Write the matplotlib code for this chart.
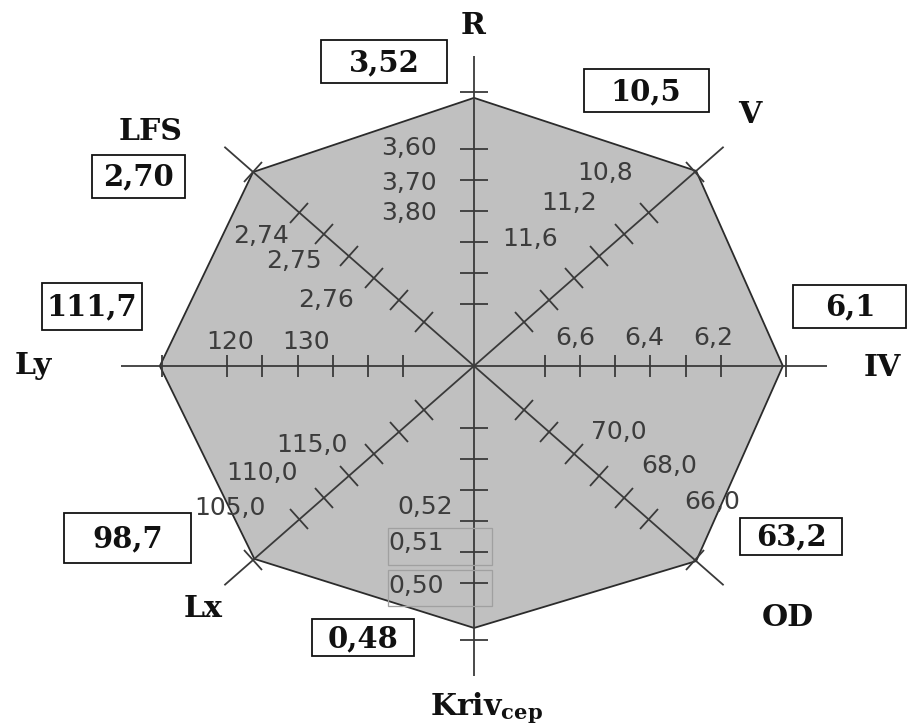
import numpy as np
import matplotlib
matplotlib.use('Agg')
import matplotlib.pyplot as plt
from matplotlib.patches import Polygon, Rectangle
from matplotlib.markers import MarkerStyle
import matplotlib.transforms as mtransforms

plt.rcParams['mathtext.fontset'] = 'dejavuserif'

# ---------------- data ----------------
axis_names = ['R', 'V', 'IV', 'OD', r'$\mathbf{Kriv}_{\mathbf{cep}}$', 'Lx', 'Ly', 'LFS']
axis_angles = [90, 45, 0, -45, -90, -135, 180, 135]
vertex_values = [3.52, 10.5, 6.1, 63.2, 0.48, 98.7, 111.7, 2.70]
vertex_decimals = [2, 1, 1, 1, 2, 1, 1, 2]
vertex_scores = [8.65, 8.9, 8.75, 8.9, 8.45, 8.8, 8.9, 8.85]   # normalised radius of polygon
tick_scores = [2, 3, 4, 5, 6, 7, 8.85]
axis_length = 10

R_labels = ['3,60', '3,70', '3,80'];      R_label_scores = [7, 6, 5]
V_labels = ['10,8', '11,2', '11,6'];      V_label_scores = [7, 6, 5]
IV_labels = ['6,6', '6,4', '6,2'];        IV_label_scores = [3, 5, 7]
OD_labels = ['70,0', '68,0', '66,0'];     OD_label_scores = [3, 5, 7]
Kriv_labels = ['0,52', '0,51', '0,50'];   Kriv_label_scores = [5, 6, 7]
Lx_labels = ['115,0', '110,0', '105,0'];  Lx_label_scores = [3, 5, 7]
Ly_labels = ['120', '130'];               Ly_label_scores = [7, 5]
LFS_labels = ['2,74', '2,75', '2,76'];    LFS_label_scores = [6, 5, 4]

tick_label_sets = [
    (R_labels, R_label_scores), (V_labels, V_label_scores), (IV_labels, IV_label_scores),
    (OD_labels, OD_label_scores), (Kriv_labels, Kriv_label_scores), (Lx_labels, Lx_label_scores),
    (Ly_labels, Ly_label_scores), (LFS_labels, LFS_label_scores)]

# ---------------- layout (pixel offsets, y up) ----------------
label_offsets = [
    [(-37, 1), (-37, -3), (-37, -2)],
    [(-44, 40), (-55, 31), (-69, 17)],
    [(-5, 28), (-6, 28), (-8, 28)],
    [(70, 0), (70, 10), (63, 17)],
    [(-49, 14), (-58, 9), (-58, -3)],
    [(-87, -13), (-87, 3), (-69, 11)],
    [(3, 24), (9, 24)],
    [(-63, -2), (-55, -5), (-48, -22)],
]
label_ha = ['right', 'center', 'center', 'center', 'center', 'center', 'center', 'center']
box_layout = [(-90, 36, 126, 43), (-50, 80, 125, 43), (67, 60, 113, 43), (95, 25, 102, 37),
              (-111, -10, 102, 37), (-127, 21, 127, 50), (-68, 60, 100, 47), (-115, -4, 93, 43)]
name_offsets = [(-1, 31), (26, 32), (55, -1), (64, -32), (13, -32), (-21, -23), (-88, 1), (-74, 15)]
tick_len = [28, 26, 22, 26, 28, 26, 22, 26]
kriv_boxes = {1: (-86, -13, 104, 37), 2: (-86, -23, 104, 36)}

W, H = 911, 726
cx, cy = 474, 366
ux, uy = 35.3, 31.0

fig = plt.figure(figsize=(W / 72, H / 72), dpi=72)
ax = fig.add_axes([0, 0, 1, 1])
ax.set_xlim(-cx / ux, (W - cx) / ux)
ax.set_ylim(-(H - cy) / uy, cy / uy)
ax.axis('off')

dirs = [(np.cos(np.radians(a)), np.sin(np.radians(a))) for a in axis_angles]

# polygon
pts = [(r * d[0], r * d[1]) for r, d in zip(vertex_scores, dirs)]
ax.add_patch(Polygon(pts, closed=True, fc='#c0c0c0', ec='#2b2b2b', lw=1.8, zorder=1))

axis_col = '#3a3a3a'
for i, d in enumerate(dirs):
    ax.plot([0, axis_length * d[0]], [0, axis_length * d[1]], color=axis_col, lw=1.8,
            zorder=2, solid_capstyle='butt')
    p0 = ax.transData.transform((0, 0))
    p1 = ax.transData.transform(d)
    ang = np.degrees(np.arctan2(p1[1] - p0[1], p1[0] - p0[0]))
    m = MarkerStyle('|', transform=mtransforms.Affine2D().rotate_deg(ang))
    xs = [t * d[0] for t in tick_scores]
    ys = [t * d[1] for t in tick_scores]
    ax.plot(xs, ys, ls='', marker=m, markersize=tick_len[i], mew=1.8, color=axis_col, zorder=3)

    # tick labels
    labels, scores = tick_label_sets[i]
    for j, (lab, sc) in enumerate(zip(labels, scores)):
        pt = (sc * d[0], sc * d[1])
        ax.annotate(lab, xy=pt, xytext=label_offsets[i][j], textcoords='offset points',
                    ha=label_ha[i], va='center', fontsize=25, color='#3c3c3c',
                    family='DejaVu Sans', zorder=4)
        if i == 4 and j in kriv_boxes:
            bx, by, bw, bh = kriv_boxes[j]
            tr = mtransforms.ScaledTranslation(pt[0], pt[1], ax.transData)
            ax.add_patch(Rectangle((bx, by), bw, bh, transform=tr, fill=False,
                                   ec='#a0a0a0', lw=1.3, zorder=4))

    # value boxes
    vpt = pts[i]
    dx, dy, bw, bh = box_layout[i]
    tr = mtransforms.ScaledTranslation(vpt[0], vpt[1], ax.transData)
    ax.add_patch(Rectangle((dx - bw / 2, dy - bh / 2), bw, bh, transform=tr, fc='white',
                           ec='#111111', lw=1.8, zorder=5))
    txt = f"{vertex_values[i]:.{vertex_decimals[i]}f}".replace('.', ',')
    ax.annotate(txt, xy=vpt, xytext=(dx, dy - 1), textcoords='offset points', ha='center',
                va='center', fontsize=29, fontweight='bold', family='DejaVu Serif',
                color='#111111', zorder=6)

    # axis names
    ept = (axis_length * d[0], axis_length * d[1])
    ax.annotate(axis_names[i], xy=ept, xytext=name_offsets[i], textcoords='offset points',
                ha='center', va='center', fontsize=30, fontweight='bold', family='DejaVu Serif',
                color='#111111', zorder=6)

fig.savefig('out.png', dpi=72)
